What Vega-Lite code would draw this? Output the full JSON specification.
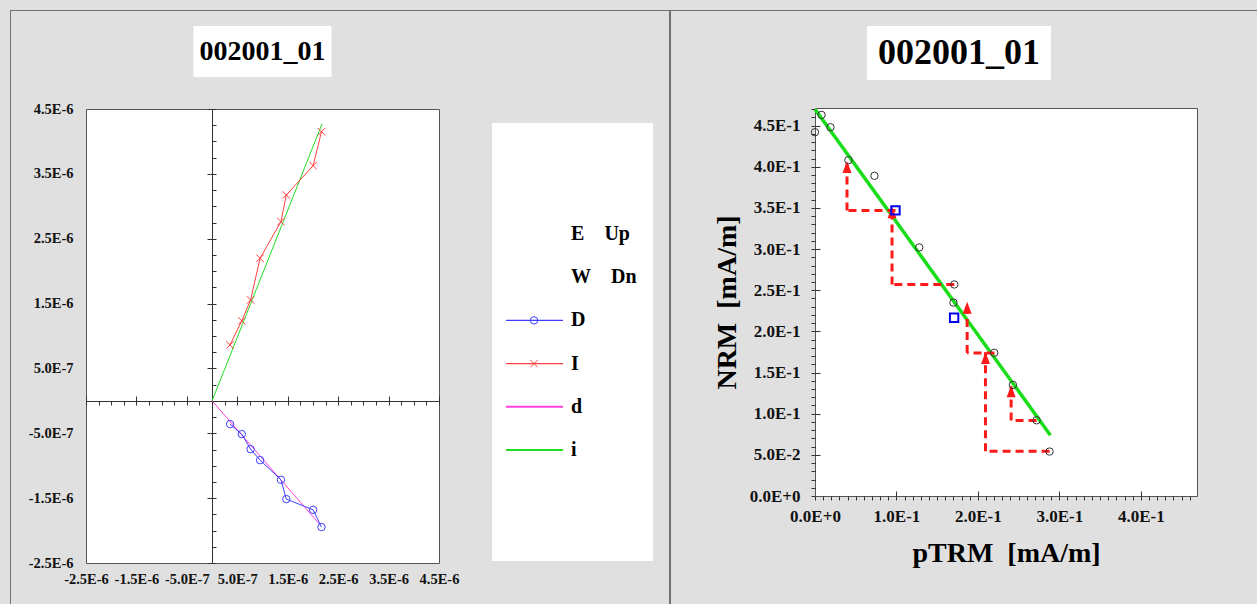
{
  "$schema": "https://vega.github.io/schema/vega-lite/v6.json",
  "background": "#e0e0e0",
  "padding": {"left": 10, "top": 10, "right": 10, "bottom": 10},
  "config": {
    "view": {"stroke": null},
    "font": "Liberation Serif",
    "axis": {
      "grid": false,
      "labelFont": "Liberation Serif",
      "labelFontWeight": "bold",
      "labelColor": "#111",
      "labelFlush": false,
      "labelOverlap": false,
      "domainColor": "#333",
      "tickColor": "#333",
      "titleFont": "Liberation Serif",
      "titleFontWeight": "bold",
      "titleColor": "#000",
      "labelExpr": "datum.value == 0 ? '0.0E+0' : (datum.value < 0 ? '-' : '') + format(abs(datum.value) / pow(10, floor(log(abs(datum.value)) / LN10 + 1e-9)), '.1f') + 'E' + (floor(log(abs(datum.value)) / LN10 + 1e-9) >= 0 ? '+' : '') + floor(log(abs(datum.value)) / LN10 + 1e-9)"
    }
  },
  "datasets": {
    "zij": [
      {"s": "i", "k": 0, "x": 0, "y": 0},
      {"s": "i", "k": 1, "x": 2.18e-6, "y": 4.27e-6},
      {"s": "d", "k": 0, "x": 0, "y": 0},
      {"s": "d", "k": 1, "x": 2.13e-6, "y": -1.90e-6},
      {"s": "D", "k": 1, "x": 3.57e-7, "y": -3.59e-7},
      {"s": "D", "k": 2, "x": 5.89e-7, "y": -5.13e-7},
      {"s": "D", "k": 3, "x": 7.64e-7, "y": -7.45e-7},
      {"s": "D", "k": 4, "x": 9.52e-7, "y": -9.14e-7},
      {"s": "D", "k": 5, "x": 1.366e-6, "y": -1.217e-6},
      {"s": "D", "k": 6, "x": 1.472e-6, "y": -1.515e-6},
      {"s": "D", "k": 7, "x": 2.004e-6, "y": -1.680e-6},
      {"s": "D", "k": 8, "x": 2.170e-6, "y": -1.946e-6},
      {"s": "I", "k": 1, "x": 3.57e-7, "y": 8.63e-7},
      {"s": "I", "k": 2, "x": 5.89e-7, "y": 1.233e-6},
      {"s": "I", "k": 3, "x": 7.64e-7, "y": 1.556e-6},
      {"s": "I", "k": 4, "x": 9.52e-7, "y": 2.199e-6},
      {"s": "I", "k": 5, "x": 1.366e-6, "y": 2.763e-6},
      {"s": "I", "k": 6, "x": 1.472e-6, "y": 3.174e-6},
      {"s": "I", "k": 7, "x": 2.004e-6, "y": 3.626e-6},
      {"s": "I", "k": 8, "x": 2.170e-6, "y": 4.150e-6}
    ],
    "fit": [
      {"ptrm": 0, "nrm": 0.470},
      {"ptrm": 0.289, "nrm": 0.0738}
    ],
    "arai": [
      {"ptrm": 0.000, "nrm": 0.442},
      {"ptrm": 0.008, "nrm": 0.463},
      {"ptrm": 0.019, "nrm": 0.448},
      {"ptrm": 0.041, "nrm": 0.408},
      {"ptrm": 0.073, "nrm": 0.389},
      {"ptrm": 0.128, "nrm": 0.302},
      {"ptrm": 0.171, "nrm": 0.257},
      {"ptrm": 0.170, "nrm": 0.235},
      {"ptrm": 0.220, "nrm": 0.174},
      {"ptrm": 0.243, "nrm": 0.135},
      {"ptrm": 0.272, "nrm": 0.092},
      {"ptrm": 0.288, "nrm": 0.054}
    ],
    "checks": [
      {"ptrm": 0.0988, "nrm": 0.347},
      {"ptrm": 0.1708, "nrm": 0.2165}
    ],
    "arrows": [
      {"x0": 0.0988, "y0": 0.347, "x1": 0.0393, "y1": 0.407},
      {"x0": 0.171, "y0": 0.257, "x1": 0.0946, "y1": 0.352},
      {"x0": 0.2204, "y0": 0.1738, "x1": 0.1868, "y1": 0.236},
      {"x0": 0.288, "y0": 0.0543, "x1": 0.2093, "y1": 0.175},
      {"x0": 0.272, "y0": 0.0916, "x1": 0.2408, "y1": 0.1345}
    ],
    "legend": [
      {"s": "E", "label": "E\u00a0\u00a0\u00a0\u00a0Up"},
      {"s": "W", "label": "W\u00a0\u00a0\u00a0\u00a0Dn"},
      {"s": "D", "label": "D"},
      {"s": "I", "label": "I"},
      {"s": "d", "label": "d"},
      {"s": "i", "label": "i"}
    ]
  },
  "spacing": 0,
  "bounds": "full",
  "vconcat": [
    {"width": 1247, "height": 1, "view": {"fill": "#707070", "stroke": null}, "data": {"values": []}, "mark": "point"},
    {
      "spacing": 0,
      "bounds": "full",
      "hconcat": [
        {"width": 1, "height": 593, "view": {"fill": "#707070", "stroke": null}, "data": {"values": []}, "mark": "point"},
        {"width": 16, "height": 1, "data": {"values": []}, "mark": "point"},
        {
          "spacing": 0,
          "bounds": "flush",
          "center": true,
          "vconcat": [
            {"width": 1, "height": 15, "data": {"values": []}, "mark": "point"},
            {
              "width": 138, "height": 51,
              "view": {"fill": "white", "stroke": null},
              "data": {"values": [{"t": "002001_01"}]},
              "mark": {"type": "text", "font": "Liberation Serif", "fontWeight": "bold", "fontSize": 28, "baseline": "middle", "align": "center", "color": "#000"},
              "encoding": {"text": {"field": "t"}}
            },
            {"width": 1, "height": 32, "data": {"values": []}, "mark": "point"},
            {
              "width": 353, "height": 454,
              "view": {"fill": "white", "stroke": "#555"},
              "data": {"name": "zij"},
              "resolve": {"axis": {"x": "independent", "y": "independent"}},
              "layer": [
                {
                  "transform": [{"filter": "datum.s == 'd' || datum.s == 'i'"}],
                  "mark": {"type": "line", "strokeWidth": 1},
                  "encoding": {
                    "x": {"field": "x", "type": "quantitative", "scale": {"domain": [-2.5e-6, 4.5e-6], "nice": false, "zero": false},
                      "axis": {"orient": "bottom", "values": [-2.5e-6, -1.5e-6, -5e-7, 5e-7, 1.5e-6, 2.5e-6, 3.5e-6, 4.5e-6], "ticks": false, "domain": false, "labelPadding": 9, "labelFontSize": 14.5, "title": null}},
                    "y": {"field": "y", "type": "quantitative", "scale": {"domain": [-2.5e-6, 4.5e-6], "nice": false, "zero": false},
                      "axis": {"orient": "left", "values": [-2.5e-6, -1.5e-6, -5e-7, 5e-7, 1.5e-6, 2.5e-6, 3.5e-6, 4.5e-6], "ticks": false, "domain": false, "labelPadding": 13, "labelFontSize": 14.5, "title": null}},
                    "color": {"field": "s", "type": "nominal", "scale": {"domain": ["D", "I", "d", "i"], "range": ["#3f3fff", "#ff4040", "#ff40dd", "#22dd22"]}, "legend": null},
                    "order": {"field": "k"}
                  }
                },
                {
                  "transform": [{"filter": "datum.s == 'D' || datum.s == 'I'"}],
                  "mark": {"type": "line", "strokeWidth": 1},
                  "encoding": {
                    "x": {"field": "x", "type": "quantitative", "scale": {"domain": [-2.5e-6, 4.5e-6], "nice": false, "zero": false},
                      "axis": {"orient": "bottom", "offset": -162, "values": [-2.5e-6, -2.25e-6, -2e-6, -1.75e-6, -1.5e-6, -1.25e-6, -1e-6, -7.5e-7, -5e-7, -2.5e-7, 0, 2.5e-7, 5e-7, 7.5e-7, 1e-6, 1.25e-6, 1.5e-6, 1.75e-6, 2e-6, 2.25e-6, 2.5e-6, 2.75e-6, 3e-6, 3.25e-6, 3.5e-6, 3.75e-6, 4e-6, 4.25e-6, 4.5e-6], "tickSize": 4, "labels": false, "domain": true, "title": null}},
                    "y": {"field": "y", "type": "quantitative", "scale": {"domain": [-2.5e-6, 4.5e-6], "nice": false, "zero": false},
                      "axis": {"orient": "right", "offset": -227, "values": [-2.5e-6, -2.25e-6, -2e-6, -1.75e-6, -1.5e-6, -1.25e-6, -1e-6, -7.5e-7, -5e-7, -2.5e-7, 0, 2.5e-7, 5e-7, 7.5e-7, 1e-6, 1.25e-6, 1.5e-6, 1.75e-6, 2e-6, 2.25e-6, 2.5e-6, 2.75e-6, 3e-6, 3.25e-6, 3.5e-6, 3.75e-6, 4e-6, 4.25e-6, 4.5e-6], "tickSize": 4, "labels": false, "domain": true, "title": null}},
                    "color": {"field": "s", "type": "nominal", "scale": {"domain": ["D", "I", "d", "i"], "range": ["#3f3fff", "#ff4040", "#ff40dd", "#22dd22"]}, "legend": null},
                    "order": {"field": "k"}
                  }
                },
                {
                  "transform": [{"filter": "datum.s == 'D' || datum.s == 'I'"}],
                  "mark": {"type": "point", "filled": false, "strokeWidth": 1, "size": 55, "opacity": 1},
                  "encoding": {
                    "x": {"field": "x", "type": "quantitative", "scale": {"domain": [-2.5e-6, 4.5e-6], "nice": false, "zero": false},
                      "axis": {"orient": "top", "offset": -292, "values": [-2.5e-6, -1.5e-6, -5e-7, 5e-7, 1.5e-6, 2.5e-6, 3.5e-6, 4.5e-6], "tickSize": 5, "labels": false, "domain": false, "title": null}},
                    "y": {"field": "y", "type": "quantitative", "scale": {"domain": [-2.5e-6, 4.5e-6], "nice": false, "zero": false},
                      "axis": {"orient": "left", "offset": -126, "values": [-2.5e-6, -1.5e-6, -5e-7, 5e-7, 1.5e-6, 2.5e-6, 3.5e-6, 4.5e-6], "tickSize": 5, "labels": false, "domain": false, "title": null}},
                    "color": {"field": "s", "type": "nominal", "scale": {"domain": ["D", "I", "d", "i"], "range": ["#3f3fff", "#ff4040", "#ff40dd", "#22dd22"]}, "legend": null},
                    "shape": {"field": "s", "type": "nominal", "scale": {"domain": ["D", "I"], "range": ["circle", "M-1,-1L1,1M-1,1L1,-1"]}, "legend": null}
                  }
                }
              ]
            }
          ]
        },
        {"width": 32, "height": 1, "data": {"values": []}, "mark": "point"},
        {
          "spacing": 0,
          "bounds": "flush",
          "vconcat": [
            {"width": 161, "height": 112, "data": {"values": []}, "mark": "point"},
            {
              "width": 161, "height": 438,
              "view": {"fill": "white", "stroke": null},
              "data": {"name": "legend"},
              "encoding": {
                "y": {"field": "s", "type": "nominal", "scale": {"type": "point", "domain": ["E", "W", "D", "I", "d", "i"], "range": [111, 327], "padding": 0}, "axis": null}
              },
              "layer": [
                {
                  "transform": [{"filter": "datum.s == 'D' || datum.s == 'I'"}],
                  "mark": {"type": "rule", "strokeWidth": 1.2},
                  "encoding": {
                    "x": {"datum": 0.087, "type": "quantitative", "scale": {"domain": [0, 1]}, "axis": null},
                    "x2": {"datum": 0.441},
                    "color": {"field": "s", "type": "nominal", "scale": {"domain": ["D", "I", "d", "i"], "range": ["#3f3fff", "#ff4040", "#ff40dd", "#22dd22"]}, "legend": null}
                  }
                },
                {
                  "transform": [{"filter": "datum.s == 'd' || datum.s == 'i'"}],
                  "mark": {"type": "rule", "strokeWidth": 2},
                  "encoding": {
                    "x": {"datum": 0.087, "type": "quantitative", "scale": {"domain": [0, 1]}, "axis": null},
                    "x2": {"datum": 0.441},
                    "color": {"field": "s", "type": "nominal", "scale": {"domain": ["D", "I", "d", "i"], "range": ["#3f3fff", "#ff4040", "#ff40dd", "#22dd22"]}, "legend": null}
                  }
                },
                {
                  "transform": [{"filter": "datum.s == 'D' || datum.s == 'I'"}],
                  "mark": {"type": "point", "filled": false, "strokeWidth": 1, "size": 55, "opacity": 1},
                  "encoding": {
                    "x": {"datum": 0.261, "type": "quantitative", "scale": {"domain": [0, 1]}, "axis": null},
                    "color": {"field": "s", "type": "nominal", "scale": {"domain": ["D", "I", "d", "i"], "range": ["#3f3fff", "#ff4040", "#ff40dd", "#22dd22"]}, "legend": null},
                    "shape": {"field": "s", "type": "nominal", "scale": {"domain": ["D", "I"], "range": ["circle", "M-1,-1L1,1M-1,1L1,-1"]}, "legend": null}
                  }
                },
                {
                  "mark": {"type": "text", "align": "left", "baseline": "middle", "font": "Liberation Serif", "fontWeight": "bold", "fontSize": 20, "color": "#000"},
                  "encoding": {
                    "x": {"datum": 0.491, "type": "quantitative", "scale": {"domain": [0, 1]}, "axis": null},
                    "text": {"field": "label"}
                  }
                }
              ]
            }
          ]
        },
        {"width": 16, "height": 1, "data": {"values": []}, "mark": "point"},
        {"width": 2, "height": 593, "view": {"fill": "#707070", "stroke": null}, "data": {"values": []}, "mark": "point"},
        {"width": 41, "height": 1, "data": {"values": []}, "mark": "point"},
        {
          "spacing": 0,
          "bounds": "full",
          "vconcat": [
            {"width": 1, "height": 15, "data": {"values": []}, "mark": "point"},
            {
              "spacing": 0,
              "bounds": "flush",
              "hconcat": [
                {"width": 52, "height": 1, "data": {"values": []}, "mark": "point"},
                {
                  "width": 184, "height": 54,
                  "view": {"fill": "white", "stroke": null},
                  "data": {"values": [{"t": "002001_01"}]},
                  "mark": {"type": "text", "font": "Liberation Serif", "fontWeight": "bold", "fontSize": 36, "baseline": "middle", "align": "center", "color": "#000"},
                  "encoding": {"text": {"field": "t"}}
                }
              ]
            },
            {"width": 1, "height": 21, "data": {"values": []}, "mark": "point"},
            {
              "width": 382, "height": 388,
              "view": {"fill": "white", "stroke": "#555"},
              "resolve": {"axis": {"x": "independent", "y": "independent"}},
              "layer": [
                {
                  "data": {"name": "fit"},
                  "mark": {"type": "line", "color": "#18dd18", "strokeWidth": 3.5},
                  "encoding": {
                    "x": {"field": "ptrm", "type": "quantitative", "scale": {"domain": [0, 0.469], "nice": false, "zero": false},
                      "axis": {"orient": "bottom", "values": [0, 0.1, 0.2, 0.3, 0.4], "ticks": false, "domain": false, "labelPadding": 12, "labelFontSize": 17, "title": "pTRM\u00a0\u00a0[mA/m]", "titleFontSize": 28, "titlePadding": 15}},
                    "y": {"field": "nrm", "type": "quantitative", "scale": {"domain": [0, 0.4714], "nice": false, "zero": false},
                      "axis": {"orient": "left", "values": [0, 0.05, 0.1, 0.15, 0.2, 0.25, 0.3, 0.35, 0.4, 0.45], "ticks": false, "domain": false, "labelPadding": 15, "labelFontSize": 17, "title": "NRM\u00a0\u00a0[mA/m]", "titleFontSize": 28, "titlePadding": 8}}
                  }
                },
                {
                  "data": {"name": "arrows"},
                  "mark": {"type": "rule", "color": "#ff1a1a", "strokeWidth": 3, "strokeDash": [8, 5]},
                  "encoding": {
                    "x": {"field": "x0", "type": "quantitative", "scale": {"domain": [0, 0.469], "nice": false, "zero": false}, "axis": null},
                    "x2": {"field": "x1"},
                    "y": {"field": "y0", "type": "quantitative", "scale": {"domain": [0, 0.4714], "nice": false, "zero": false}, "axis": null}
                  }
                },
                {
                  "data": {"name": "arrows"},
                  "mark": {"type": "rule", "color": "#ff1a1a", "strokeWidth": 3, "strokeDash": [8, 5]},
                  "encoding": {
                    "x": {"field": "x1", "type": "quantitative", "scale": {"domain": [0, 0.469], "nice": false, "zero": false}, "axis": null},
                    "y": {"field": "y0", "type": "quantitative", "scale": {"domain": [0, 0.4714], "nice": false, "zero": false}, "axis": null},
                    "y2": {"field": "y1"}
                  }
                },
                {
                  "data": {"name": "arrows"},
                  "mark": {"type": "point", "shape": "M0,-1L0.75,1L-0.75,1Z", "filled": true, "color": "#ff1a1a", "opacity": 1, "size": 144, "yOffset": 6},
                  "encoding": {
                    "x": {"field": "x1", "type": "quantitative", "scale": {"domain": [0, 0.469], "nice": false, "zero": false}, "axis": null},
                    "y": {"field": "y1", "type": "quantitative", "scale": {"domain": [0, 0.4714], "nice": false, "zero": false}, "axis": null}
                  }
                },
                {
                  "data": {"name": "arai"},
                  "mark": {"type": "point", "filled": false, "color": "#333", "strokeWidth": 1, "size": 55, "opacity": 1},
                  "encoding": {
                    "x": {"field": "ptrm", "type": "quantitative", "scale": {"domain": [0, 0.469], "nice": false, "zero": false},
                      "axis": {"orient": "bottom", "values": [0, 0.01, 0.02, 0.03, 0.04, 0.05, 0.06, 0.07, 0.08, 0.09, 0.1, 0.11, 0.12, 0.13, 0.14, 0.15, 0.16, 0.17, 0.18, 0.19, 0.2, 0.21, 0.22, 0.23, 0.24, 0.25, 0.26, 0.27, 0.28, 0.29, 0.3, 0.31, 0.32, 0.33, 0.34, 0.35, 0.36, 0.37, 0.38, 0.39, 0.4, 0.41, 0.42, 0.43, 0.44, 0.45, 0.46], "tickSize": 4, "labels": false, "domain": false, "title": null}},
                    "y": {"field": "nrm", "type": "quantitative", "scale": {"domain": [0, 0.4714], "nice": false, "zero": false},
                      "axis": {"orient": "left", "values": [0, 0.01, 0.02, 0.03, 0.04, 0.05, 0.06, 0.07, 0.08, 0.09, 0.1, 0.11, 0.12, 0.13, 0.14, 0.15, 0.16, 0.17, 0.18, 0.19, 0.2, 0.21, 0.22, 0.23, 0.24, 0.25, 0.26, 0.27, 0.28, 0.29, 0.3, 0.31, 0.32, 0.33, 0.34, 0.35, 0.36, 0.37, 0.38, 0.39, 0.4, 0.41, 0.42, 0.43, 0.44, 0.45, 0.46, 0.47], "tickSize": 4, "labels": false, "domain": false, "title": null}}
                  }
                },
                {
                  "data": {"name": "checks"},
                  "mark": {"type": "point", "shape": "square", "filled": false, "color": "#0000ee", "strokeWidth": 2, "size": 70, "opacity": 1},
                  "encoding": {
                    "x": {"field": "ptrm", "type": "quantitative", "scale": {"domain": [0, 0.469], "nice": false, "zero": false},
                      "axis": {"orient": "top", "offset": -388, "values": [0.1, 0.2, 0.3, 0.4], "tickSize": 5, "labels": false, "domain": false, "title": null}},
                    "y": {"field": "nrm", "type": "quantitative", "scale": {"domain": [0, 0.4714], "nice": false, "zero": false},
                      "axis": {"orient": "right", "offset": -382, "values": [0.05, 0.1, 0.15, 0.2, 0.25, 0.3, 0.35, 0.4, 0.45], "tickSize": 5, "labels": false, "domain": false, "title": null}}
                  }
                }
              ]
            }
          ]
        }
      ]
    }
  ]
}
